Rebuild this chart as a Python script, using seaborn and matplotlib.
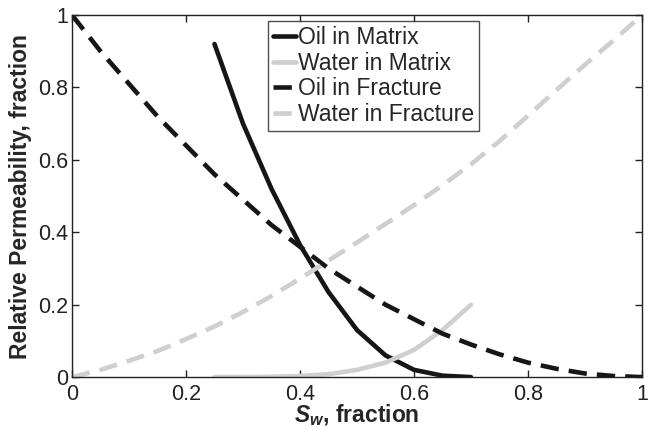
import numpy as np
import pandas as pd
import matplotlib
matplotlib.use("Agg")
import matplotlib.pyplot as plt
import seaborn as sns

# --- data ---
sw_matrix = [0.25, 0.30, 0.35, 0.40, 0.45, 0.50, 0.55, 0.60, 0.65, 0.70]
kro_matrix = [0.92, 0.70, 0.52, 0.365, 0.235, 0.13, 0.06, 0.02, 0.004, 0.0]
krw_matrix = [0.0, 0.0, 0.001, 0.003, 0.008, 0.02, 0.04, 0.075, 0.13, 0.20]

sw_frac = [0.0, 0.05, 0.10, 0.15, 0.20, 0.25, 0.30, 0.35, 0.40, 0.45, 0.50,
           0.55, 0.60, 0.65, 0.70, 0.75, 0.80, 0.85, 0.90, 0.95, 1.0]
kro_frac = [1.0, 0.90, 0.81, 0.72, 0.64, 0.56, 0.49, 0.42, 0.36, 0.30, 0.25,
            0.20, 0.16, 0.12, 0.09, 0.063, 0.04, 0.023, 0.01, 0.003, 0.0]
krw_frac = [0.0, 0.02, 0.045, 0.072, 0.105, 0.14, 0.18, 0.224, 0.272, 0.322, 0.372,
            0.423, 0.475, 0.53, 0.588, 0.652, 0.722, 0.793, 0.863, 0.93, 1.0]

series_labels = ["Oil in Matrix", "Water in Matrix", "Oil in Fracture", "Water in Fracture"]
xticks = [0, 0.2, 0.4, 0.6, 0.8, 1]
xtick_labels = ["0", "0.2", "0.4", "0.6", "0.8", "1"]
yticks = [0, 0.2, 0.4, 0.6, 0.8, 1]
ytick_labels = ["0", "0.2", "0.4", "0.6", "0.8", "1"]

sns.set_style("ticks")
plt.rcParams['font.family'] = ['Liberation Sans', 'DejaVu Sans']
plt.rcParams['mathtext.fontset'] = 'custom'
plt.rcParams['mathtext.it'] = 'Liberation Sans:italic:bold'
plt.rcParams['mathtext.rm'] = 'Liberation Sans:bold'

fig = plt.figure(figsize=(6.51, 4.30), dpi=100)
ax = fig.add_axes([0.1106, 0.123, 0.8756, 0.842])

dark = "#161616"
light = "#cfcfcf"
dash = (4.0, 2.2)

sns.lineplot(x=sw_matrix, y=kro_matrix, ax=ax, color=dark, lw=3.3, label=series_labels[0])
sns.lineplot(x=sw_matrix, y=krw_matrix, ax=ax, color=light, lw=3.3, label=series_labels[1])
sns.lineplot(x=sw_frac, y=kro_frac, ax=ax, color=dark, lw=3.3, label=series_labels[2])
sns.lineplot(x=sw_frac, y=krw_frac, ax=ax, color=light, lw=3.3, label=series_labels[3])
ax.lines[2].set_dashes(dash)
ax.lines[3].set_dashes(dash)

ax.set_xlim(0, 1)
ax.set_ylim(0, 1)
ax.set_xticks(xticks)
ax.set_xticklabels(xtick_labels)
ax.set_yticks(yticks)
ax.set_yticklabels(ytick_labels)
ax.tick_params(direction="in", top=True, right=True, labelsize=15.5, length=5, width=1, colors="#222222")
ax.tick_params(axis="x", pad=5)
ax.tick_params(axis="y", pad=3)
for s in ax.spines.values():
    s.set_visible(True)
    s.set_linewidth(1)
    s.set_color("#222222")

ax.set_xlabel(r"$S_w$, fraction", fontsize=16.5, fontweight="bold", labelpad=-2)
ax.set_ylabel("Relative Permeability, fraction", fontsize=16.5, fontweight="bold", labelpad=4)

leg = ax.legend(loc="upper left", bbox_to_anchor=(0.344, 0.983), borderaxespad=0,
                fontsize=16.5, handlelength=1.0, handletextpad=0.1, borderpad=0.2,
                labelspacing=0.12, frameon=True, fancybox=False)
leg.get_frame().set_edgecolor("#222222")
leg.get_frame().set_linewidth(1)
for line in leg.get_lines():
    line.set_linewidth(3.3)

fig.savefig("out.png", dpi=100)
